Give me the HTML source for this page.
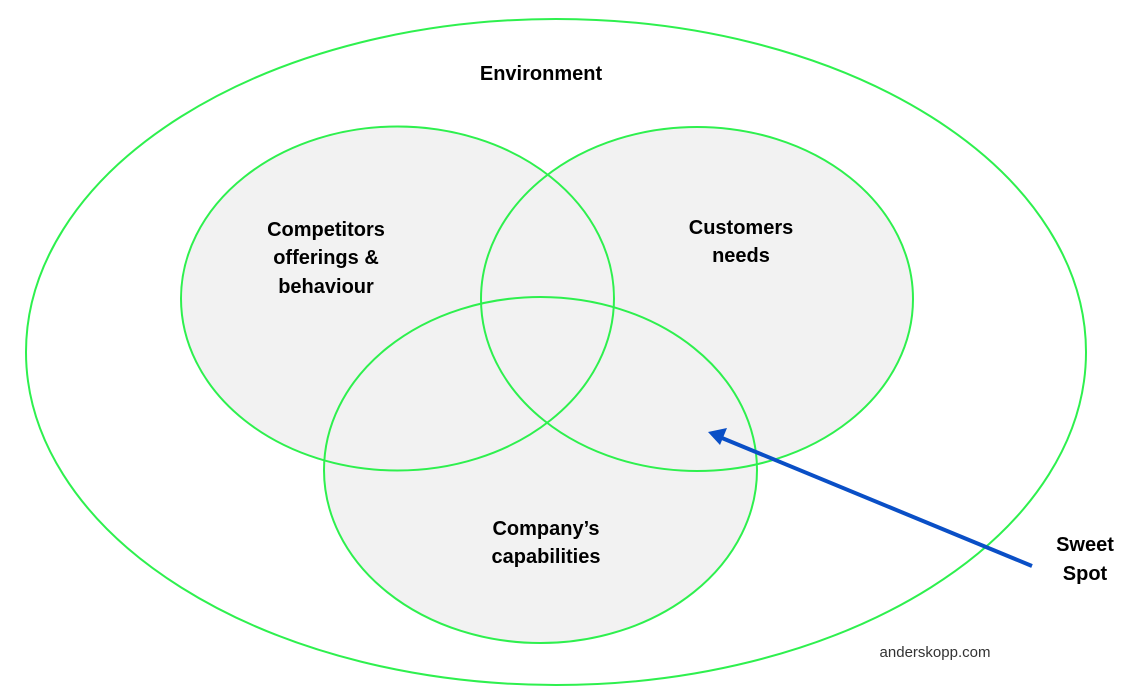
<!DOCTYPE html>
<html><head><meta charset="utf-8"><style>
html,body{margin:0;padding:0;background:#fff;}
svg{display:block}
text{font-family:"Liberation Sans",sans-serif;font-weight:bold;font-size:20px;fill:#000;text-anchor:middle}
</style></head><body>
<svg width="1138" height="694" viewBox="0 0 1138 694" xmlns="http://www.w3.org/2000/svg">
<rect width="1138" height="694" fill="#fff"/>
<ellipse cx="556" cy="352" rx="530" ry="333" fill="#fff" stroke="#2ef04e" stroke-width="2"/>
<g fill="#f2f2f2">
<ellipse cx="397.5" cy="298.5" rx="216.5" ry="172"/>
<ellipse cx="697" cy="299" rx="216" ry="172"/>
<ellipse cx="540.5" cy="470" rx="216.5" ry="173"/>
</g>
<g fill="none" stroke="#2ef04e" stroke-width="2">
<ellipse cx="397.5" cy="298.5" rx="216.5" ry="172"/>
<ellipse cx="697" cy="299" rx="216" ry="172"/>
<ellipse cx="540.5" cy="470" rx="216.5" ry="173"/>
</g>
<line x1="1032" y1="566" x2="722" y2="438" stroke="#0a4fc6" stroke-width="4"/>
<polygon points="708,432 727,428 720,445" fill="#0a4fc6"/>
<text x="541" y="80">Environment</text>
<text x="326" y="236">Competitors</text>
<text x="326" y="264">offerings &amp;</text>
<text x="326" y="293">behaviour</text>
<text x="741" y="234">Customers</text>
<text x="741" y="262">needs</text>
<text x="546" y="535">Company’s</text>
<text x="546" y="563">capabilities</text>
<text x="1085" y="551">Sweet</text>
<text x="1085" y="580">Spot</text>
<text x="935" y="657" style="font-weight:normal;font-size:15px;fill:#333">anderskopp.com</text>
</svg>
</body></html>
